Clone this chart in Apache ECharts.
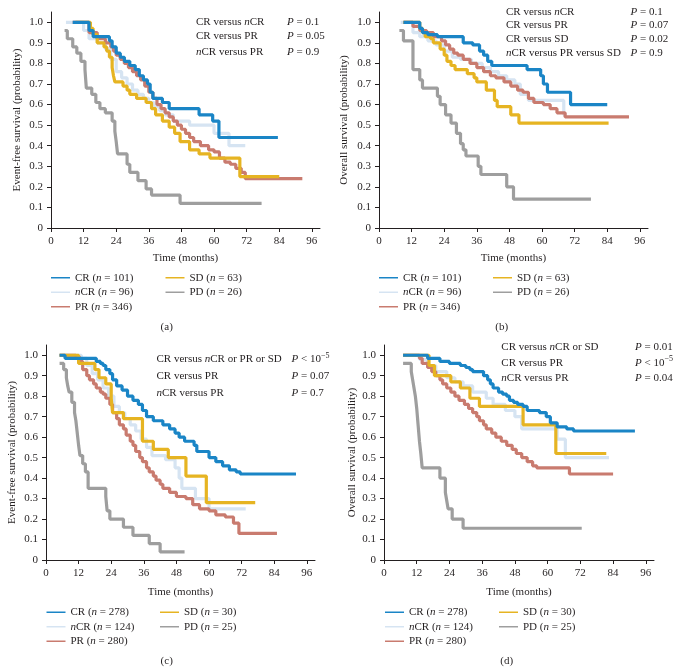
<!DOCTYPE html>
<html>
<head>
<meta charset="utf-8">
<title>Survival by response</title>
<script src="https://cdn.jsdelivr.net/npm/echarts@6/dist/echarts.min.js"></script>
</head>
<body style="margin:0;background:#fff">
<div id="main" style="width:680px;height:672px;"></div>
<script>
// axis ticks
var monthTicks = [0, 12, 24, 36, 48, 60, 72, 84, 96];
var probTicks = [0, 0.1, 0.2, 0.3, 0.4, 0.5, 0.6, 0.7, 0.8, 0.9, 1.0];

var groups = ['CR', 'nCR', 'PR', 'SD', 'PD'];
var colors = ['#1a85c6', '#d6e4f2', '#c97b6f', '#e6b422', '#9e9e9e'];
var countsAB = [101, 96, 346, 63, 26];
var countsCD = [278, 124, 280, 30, 25];

// (a) event-free survival, [month, probability]
var a_CR = [[8,1.0],[14,0.96],[15.5,0.93],[21.5,0.91],[22.5,0.88],[24,0.85],[25.5,0.83],[27,0.81],[29,0.79],[31,0.77],[32.5,0.74],[34,0.72],[35.5,0.70],[36.5,0.66],[37.5,0.63],[41,0.61],[43.5,0.58],[54.5,0.55],[59.5,0.52],[61.8,0.44],[83.5,0.44]];
var a_nCR = [[5.5,1.0],[12,0.96],[14,0.92],[17,0.90],[20,0.87],[22,0.82],[24,0.76],[26,0.73],[28,0.70],[30,0.67],[32,0.65],[34,0.63],[36,0.61],[38,0.59],[40,0.57],[42,0.55],[45,0.52],[51,0.50],[60,0.46],[65.5,0.40],[71.5,0.40]];
var a_PR = [[8,1.0],[14,0.95],[17,0.92],[20,0.90],[22,0.88],[23,0.86],[24,0.84],[25.5,0.82],[27,0.80],[28.5,0.78],[30,0.76],[31.5,0.74],[33,0.72],[34.5,0.69],[36,0.66],[37.5,0.63],[39,0.60],[40.5,0.58],[42,0.56],[43.5,0.54],[45,0.52],[46.5,0.50],[48,0.48],[49.5,0.46],[51,0.44],[52.5,0.42],[55,0.40],[58,0.38],[60,0.37],[62,0.34],[64,0.32],[66,0.31],[68,0.29],[70,0.27],[71.5,0.24],[92.5,0.24]];
var a_SD = [[9,1.0],[14.5,0.97],[15.5,0.94],[17,0.90],[19.5,0.88],[20.5,0.86],[21.5,0.83],[22.5,0.78],[23,0.74],[23.5,0.71],[26.5,0.69],[28,0.67],[29,0.65],[31.5,0.63],[35,0.61],[37,0.58],[38.5,0.55],[41,0.52],[43.5,0.49],[45.5,0.46],[47.5,0.42],[51,0.38],[54.5,0.36],[58.5,0.34],[69.5,0.25],[84,0.25]];
var a_PD = [[5,0.96],[6,0.92],[8,0.88],[9.5,0.85],[11,0.81],[12.5,0.77],[13,0.68],[15,0.65],[16.5,0.61],[18,0.58],[20,0.56],[22.5,0.52],[23.5,0.47],[24,0.42],[24.5,0.36],[28,0.31],[29,0.27],[32,0.23],[35,0.19],[37,0.16],[47.5,0.12],[77.5,0.12]];

// (b) overall survival
var b_CR = [[9,1.0],[15,0.97],[16,0.95],[18,0.94],[21.5,0.93],[31,0.90],[34.5,0.89],[37,0.86],[38.5,0.84],[40,0.81],[41.5,0.79],[54.5,0.77],[59.5,0.74],[60.5,0.70],[62,0.66],[70.5,0.60],[84,0.60]];
var b_nCR = [[8,1.0],[12.5,0.95],[15,0.93],[18,0.91],[21,0.89],[24,0.86],[27,0.83],[30,0.82],[34,0.80],[38,0.78],[41,0.76],[44,0.74],[47,0.72],[50,0.70],[52,0.65],[55,0.62],[68,0.55],[69,0.55]];
var b_PR = [[9,1.0],[12.5,0.98],[15,0.96],[17.5,0.95],[20,0.93],[23,0.91],[24.5,0.89],[26,0.87],[27.5,0.85],[29,0.84],[31,0.82],[33.5,0.80],[36,0.78],[38.5,0.76],[41,0.74],[43,0.73],[46,0.71],[48.5,0.69],[51,0.67],[53,0.66],[55,0.63],[57,0.61],[60.5,0.60],[63,0.58],[65.5,0.56],[68.5,0.54],[92,0.54]];
var b_SD = [[9,1.0],[15,0.97],[16,0.95],[17,0.93],[19,0.92],[20,0.90],[22.5,0.87],[24,0.84],[25,0.81],[26.5,0.79],[28,0.77],[32.5,0.75],[35,0.73],[36,0.71],[39.5,0.67],[42.5,0.62],[43.5,0.59],[48.5,0.55],[51.5,0.51],[84.5,0.51]];
var b_PD = [[7.5,0.96],[9,0.91],[12.5,0.77],[15,0.72],[16,0.68],[21.5,0.64],[22.5,0.60],[24.5,0.55],[26.5,0.51],[28.5,0.46],[30,0.41],[31,0.38],[32,0.35],[36.5,0.30],[37.5,0.26],[47,0.20],[49.5,0.14],[78,0.14]];

// (c) event-free survival
var c_CR = [[5,1.0],[7,0.985],[18.5,0.97],[20,0.96],[21,0.95],[22,0.93],[23.5,0.91],[24.5,0.88],[26,0.85],[28,0.83],[30,0.80],[32,0.78],[34,0.76],[35.5,0.73],[37,0.70],[39.5,0.68],[43,0.66],[45.5,0.64],[47.5,0.62],[49,0.60],[51,0.58],[54.5,0.56],[55.5,0.53],[60,0.50],[62.5,0.48],[65,0.46],[67.5,0.44],[70,0.43],[71.5,0.42],[92,0.42]];
var c_nCR = [[6,1.0],[13,0.985],[15,0.95],[17,0.91],[19,0.88],[21,0.84],[23,0.80],[25,0.75],[27,0.72],[29,0.69],[31,0.66],[33,0.63],[35,0.59],[37,0.55],[39,0.51],[44,0.49],[47.5,0.45],[49,0.40],[50,0.35],[55,0.30],[60,0.25],[73.5,0.25]];
var c_PR = [[5,1.0],[11,0.99],[12.5,0.97],[13.5,0.93],[15,0.90],[16,0.88],[17.5,0.86],[18.5,0.84],[20,0.82],[21,0.81],[22,0.79],[23.5,0.76],[24.5,0.72],[26,0.69],[27,0.66],[28.5,0.64],[29.5,0.61],[31,0.58],[32,0.56],[33,0.53],[34.5,0.50],[35.5,0.48],[37,0.45],[38,0.43],[39.5,0.41],[40.5,0.39],[42,0.37],[43,0.35],[45.5,0.33],[48,0.31],[51.5,0.30],[54,0.27],[56.5,0.25],[60,0.24],[62.5,0.22],[66,0.21],[69,0.18],[71,0.13],[85,0.13]];
var c_SD = [[5,1.0],[12,0.96],[18,0.93],[19.5,0.89],[22,0.86],[24,0.79],[24.5,0.72],[28.5,0.69],[35.5,0.58],[39.5,0.54],[45,0.50],[51.5,0.41],[59,0.28],[77,0.28]];
var c_PD = [[5,0.96],[6.5,0.93],[7.5,0.89],[8,0.85],[8.5,0.82],[9.5,0.77],[10.5,0.72],[11,0.68],[11.5,0.62],[12,0.56],[12.5,0.51],[13.5,0.47],[14.5,0.43],[15.5,0.35],[22,0.31],[22.5,0.24],[23.5,0.20],[28.5,0.16],[32,0.12],[38,0.08],[42,0.04],[51,0.04]];

// (d) overall survival
var d_CR = [[7,1.0],[16,0.985],[20.5,0.97],[24,0.96],[28,0.95],[30,0.94],[31.5,0.93],[32.5,0.92],[36.5,0.90],[38,0.88],[39,0.86],[40,0.84],[42,0.82],[43.5,0.81],[45,0.80],[46,0.78],[47.5,0.77],[49,0.76],[51,0.75],[52.5,0.73],[57,0.72],[59.5,0.70],[61,0.67],[63.5,0.65],[67,0.64],[69.5,0.63],[92,0.63]];
var d_nCR = [[7,1.0],[13,0.98],[16,0.95],[19,0.92],[23,0.89],[26,0.87],[29,0.85],[32.5,0.82],[37.5,0.79],[40,0.76],[44.5,0.73],[48,0.70],[50.5,0.64],[63.5,0.59],[66.5,0.50],[82.5,0.50]];
var d_PR = [[7,1.0],[13,0.985],[14,0.96],[16,0.94],[17.5,0.92],[19,0.90],[20.5,0.88],[21.5,0.86],[23,0.84],[24.5,0.82],[26,0.80],[27.5,0.78],[29.5,0.76],[31,0.74],[32.5,0.72],[34,0.70],[35,0.68],[36.5,0.66],[37.5,0.64],[39.5,0.62],[41,0.60],[43,0.58],[45,0.56],[47,0.54],[48.5,0.52],[50.5,0.50],[52.5,0.48],[54.5,0.46],[56,0.45],[68,0.42],[84,0.42]];
var d_SD = [[7,1.0],[16.5,0.95],[18.5,0.90],[24.5,0.87],[28,0.84],[31.5,0.79],[35,0.75],[51,0.66],[63,0.52],[81.5,0.52]];
var d_PD = [[7,0.96],[10,0.92],[10.5,0.88],[11,0.84],[11.5,0.80],[12,0.74],[12.5,0.66],[13,0.58],[13.5,0.52],[14,0.45],[20.5,0.40],[22.5,0.33],[23,0.29],[23.5,0.25],[25,0.20],[29,0.155],[72.5,0.155]];

var FONT = 'Liberation Serif';
var INK = '#231f20';

var panels = [
    {grid: {left: 51, top: 12, width: 269, height: 216}, yName: 'Event-free survival (probability)', yGap: 28.5, xGap: 24.5,
     counts: countsAB, curves: [a_CR, a_nCR, a_PR, a_SD, a_PD], legend: [51, 165.5, 271.5]},
    {grid: {left: 379, top: 12, width: 269, height: 216}, yName: 'Overall survival (probability)', yGap: 29.5, xGap: 24.5,
     counts: countsAB, curves: [b_CR, b_nCR, b_PR, b_SD, b_PD], legend: [379, 493, 271.5]},
    {grid: {left: 46, top: 345, width: 269, height: 215}, yName: 'Event-free survival (probability)', yGap: 28, xGap: 27,
     counts: countsCD, curves: [c_CR, c_nCR, c_PR, c_SD, c_PD], legend: [46.5, 160, 606]},
    {grid: {left: 384, top: 345, width: 270, height: 215}, yName: 'Overall survival (probability)', yGap: 26, xGap: 27,
     counts: countsCD, curves: [d_CR, d_nCR, d_PR, d_SD, d_PD], legend: [385, 499, 606]}
];

// draw order: nCR under the rest, CR on top
var zOrder = [6, 2, 3, 5, 4];

var grids = [], xAxes = [], yAxes = [], series = [], legends = [];

panels.forEach(function (p, i) {
    grids.push(p.grid);
    xAxes.push({
        type: 'value', gridIndex: i, min: 0, max: 99,
        name: 'Time (months)', nameLocation: 'middle', nameGap: p.xGap,
        nameTextStyle: {fontFamily: FONT, fontSize: 11, color: INK},
        axisLine: {lineStyle: {color: INK, width: 1}},
        axisTick: {length: 4, lineStyle: {color: INK}, customValues: monthTicks},
        axisLabel: {fontFamily: FONT, fontSize: 11, color: INK, margin: 8, customValues: monthTicks},
        splitLine: {show: false}
    });
    yAxes.push({
        type: 'value', gridIndex: i, min: 0, max: 1.05,
        name: p.yName, nameLocation: 'middle', nameGap: p.yGap,
        nameTextStyle: {fontFamily: FONT, fontSize: 11, color: INK},
        axisLine: {show: true, lineStyle: {color: INK, width: 1}},
        axisTick: {show: true, length: 4, lineStyle: {color: INK}, customValues: probTicks},
        axisLabel: {fontFamily: FONT, fontSize: 11, color: INK, margin: 8, customValues: probTicks,
            formatter: function (v) { return v === 0 ? '0' : v.toFixed(1); }},
        splitLine: {show: false}
    });
    var names = groups.map(function (g, k) { return g + ' (n = ' + p.counts[k] + ')'; });
    groups.forEach(function (g, k) {
        series.push({
            name: names[k], type: 'line', step: 'end', symbol: 'none',
            xAxisIndex: i, yAxisIndex: i, z: zOrder[k],
            data: p.curves[k], silent: true,
            lineStyle: {color: colors[k], width: 3.2}, itemStyle: {color: colors[k]}
        });
    });
    var legendBase = {
        orient: 'vertical', top: p.legend[2], padding: 0, icon: 'rect', itemWidth: 19, itemHeight: 1.5, itemGap: 2,
        selectedMode: false,
        formatter: function (name) {
            return name.replace(/^n/, '{i|n}').replace('(n', '({i|n}');
        },
        textStyle: {fontFamily: FONT, fontSize: 11, color: INK, lineHeight: 12.5,
            rich: {i: {fontFamily: FONT, fontSize: 11, fontStyle: 'italic', color: INK, lineHeight: 12.5}}}
    };
    legends.push(Object.assign({}, legendBase, {left: p.legend[0], data: names.slice(0, 3)}));
    legends.push(Object.assign({}, legendBase, {left: p.legend[1], data: names.slice(3)}));
});

var rich = {
    i: {fontFamily: FONT, fontSize: 11, fontStyle: 'italic', fill: INK, lineHeight: 15},
    r: {fontFamily: FONT, fontSize: 11, fill: INK, lineHeight: 15},
    sup: {fontFamily: FONT, fontSize: 8, fill: INK, lineHeight: 8, verticalAlign: 'top'}
};

function txt(x, y, s, align) {
    return {type: 'text', x: x, y: y, silent: true,
        style: {text: s, rich: rich, font: '11px ' + FONT, fill: INK,
            textAlign: align || 'left', textVerticalAlign: 'middle'}};
}

// test labels and P values
var notes = [
    [196, 287, [[21.7, '{r|CR versus }{i|n}{r|CR}', '{i|P}{r| = 0.1}'],
                [35.7, '{r|CR versus PR}', '{i|P}{r| = 0.05}'],
                [52, '{i|n}{r|CR versus PR}', '{i|P}{r| = 0.9}']]],
    [506, 630.5, [[11.7, '{r|CR versus }{i|n}{r|CR}', '{i|P}{r| = 0.1}'],
                  [25, '{r|CR versus PR}', '{i|P}{r| = 0.07}'],
                  [39.3, '{r|CR versus SD}', '{i|P}{r| = 0.02}'],
                  [53.3, '{i|n}{r|CR versus PR versus SD}', '{i|P}{r| = 0.9}']]],
    [156.5, 291.5, [[359, '{r|CR versus }{i|n}{r|CR or PR or SD}', '{i|P}{r| < 10}{sup|\u22125}'],
                    [376, '{r|CR versus PR}', '{i|P}{r| = 0.07}'],
                    [393, '{i|n}{r|CR versus PR}', '{i|P}{r| = 0.7}']]],
    [501.3, 635, [[346.7, '{r|CR versus }{i|n}{r|CR or SD}', '{i|P}{r| = 0.01}'],
                  [362.7, '{r|CR versus PR}', '{i|P}{r| < 10}{sup|\u22125}'],
                  [378.3, '{i|n}{r|CR versus PR}', '{i|P}{r| = 0.04}']]]
];

var graphics = [];
notes.forEach(function (n) {
    n[2].forEach(function (row) {
        graphics.push(txt(n[0], row[0], row[1]));
        graphics.push(txt(n[1], row[0], row[2]));
    });
});
graphics.push(txt(166.7, 327, '{r|(a)}', 'center'));
graphics.push(txt(501.7, 327, '{r|(b)}', 'center'));
graphics.push(txt(166.7, 661, '{r|(c)}', 'center'));
graphics.push(txt(506.7, 661, '{r|(d)}', 'center'));

var myChart = echarts.init(document.getElementById('main'));
myChart.setOption({
    animation: false,
    backgroundColor: '#ffffff',
    grid: grids,
    xAxis: xAxes,
    yAxis: yAxes,
    legend: legends,
    series: series,
    graphic: graphics
});
</script>
</body>
</html>
